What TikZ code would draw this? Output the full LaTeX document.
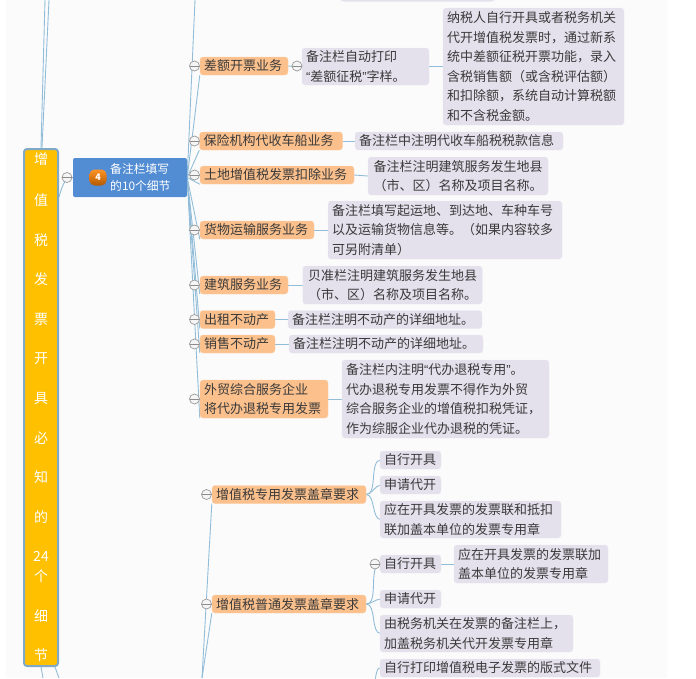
\documentclass[tikz,border=0pt]{standalone}
\usepackage{fontspec}
\usetikzlibrary{backgrounds}
\setmainfont{Noto Sans CJK SC}
\newfontfamily\qf{Liberation Sans}
\definecolor{bgc}{HTML}{FBFBFC}
\definecolor{txtc}{HTML}{3A3A3A}
\definecolor{orc}{HTML}{FBC08C}
\definecolor{grc}{HTML}{E4E0EC}
\definecolor{linec}{HTML}{92BDD8}
\definecolor{rootb}{HTML}{7FA9C6}
\definecolor{blc}{HTML}{528CD3}
\definecolor{rootf}{HTML}{FFC000}
\newcommand{\lqm}{{\qf“}}
\newcommand{\rqm}{{\qf”}}
\tikzset{
 basebox/.style={rounded corners=3pt,inner sep=0pt,text=txtc,font=\fontsize{13}{19.5}\selectfont},
 orbox/.style={basebox,fill=orc,draw=orc!70!white,line width=.4pt},
 grbox/.style={basebox,fill=grc,draw=grc!70!white,line width=.4pt},
 lf/.style={align=left,inner xsep=4pt,text width=#1pt-8pt},
 conn/.style={draw=linec,line width=.9pt},
 knob/.style={circle,draw=black!40,fill=white!96!black,line width=.7pt,inner sep=0pt,minimum size=10pt,
   path picture={\draw[black!45,line width=.7pt] (path picture bounding box.west) -- (path picture bounding box.east);}},
}
\begin{document}
\begin{tikzpicture}[x=1pt,y=-1pt]
\useasboundingbox (0,0) rectangle (696,678);
% free ends
\coordinate (t1) at (45,0);
\coordinate (t2) at (49,0);
\coordinate (b1) at (43,678);
\coordinate (b2) at (59,678);
\coordinate (up) at (195,0);
\coordinate (down) at (202,678);
\coordinate (nextc) at (375,678);
\coordinate (rj) at (59,197);
% nodes
\node[draw=rootb,fill=rootf,line width=2pt,rounded corners=3pt,minimum width=34pt,minimum height=517pt,inner sep=0pt,text=white,align=center,font=\fontsize{14}{19.8}\selectfont] (root) at (41,407.5)
 {\raisebox{1pt}{增}\\[19.8pt]值\\[19.8pt]税\\[19.8pt]发\\[19.8pt]票\\[19.8pt]开\\[19.8pt]具\\[19.8pt]必\\[19.8pt]知\\[19.8pt]的\\[19.8pt]24\\个\\[19.8pt]细\\[19.8pt]节};
\node[fill=blc,rounded corners=2pt,minimum width=114pt,minimum height=39pt,inner sep=0pt] (blue) at (130,177.5) {};
\node[rounded corners=5pt,top color=orange!85!white,bottom color=orange!70!black,minimum width=17pt,minimum height=16pt,inner sep=0pt,text=white,font=\fontsize{9}{9}\selectfont\bfseries\itshape] (ic) at (98,177.5) {4};
\node[text=white,align=left,inner sep=0pt,font=\fontsize{11.8}{16.5}\selectfont,anchor=west] (bt) at (110,177.5) {备注栏填写\\的10个细节};

\node[orbox,lf=88,minimum height=18pt] (o1) at (244,66) {差额开票业务};
\node[orbox,lf=143,minimum height=18pt] (o2) at (271,141) {保险机构代收车船业务};
\node[orbox,lf=154,minimum height=18pt] (o3) at (277,175) {土地增值税发票扣除业务};
\node[orbox,lf=114,minimum height=18pt] (o4) at (257,230) {货物运输服务业务};
\node[orbox,lf=88,minimum height=18pt] (o5) at (244,285) {建筑服务业务};
\node[orbox,lf=75,minimum height=18pt] (o6) at (237.5,319.5) {出租不动产};
\node[orbox,lf=75,minimum height=18pt] (o7) at (237.5,344) {销售不动产};
\node[orbox,lf=128,minimum height=38pt] (o8) at (264,399) {外贸综合服务企业\\将代办退税专用发票};
\node[orbox,lf=154,minimum height=18pt] (o9) at (289,494.5) {增值税专用发票盖章要求};
\node[orbox,lf=154,minimum height=18pt] (o10) at (289,604) {增值税普通发票盖章要求};

\node[grbox,minimum width=153pt,minimum height=3pt] (g0) at (417.5,0) {};
\node[grbox,lf=127,minimum height=37pt] (g1) at (365.5,66.5) {备注栏自动打印\\\lqm 差额征税\rqm 字样。};
\node[grbox,lf=181,minimum height=117pt] (g1b) at (533.5,66.5) {纳税人自行开具或者税务机关\\代开增值税发票时，通过新系\\统中差额征税开票功能，录入\\含税销售额（或含税评估额）\\和扣除额，系统自动计算税额\\和不含税金额。};
\node[grbox,lf=208,minimum height=18pt] (g2) at (459,141) {备注栏中注明代收车船税税款信息};
\node[grbox,minimum width=180pt,minimum height=38pt,align=center] (g3) at (458,176) {备注栏注明建筑服务发生地县\\（市、区）名称及项目名称。};
\node[grbox,lf=234,minimum height=58pt] (g4) at (445,230) {备注栏填写起运地、到达地、车种车号\\以及运输货物信息等。（如果内容较多\\可另附清单）};
\node[grbox,minimum width=179.5pt,minimum height=38pt,align=center] (g5) at (392.5,285) {贝准栏注明建筑服务发生地县\\（市、区）名称及项目名称。};
\node[grbox,lf=194,minimum height=18pt] (g6) at (385,319.5) {备注栏注明不动产的详细地址。};
\node[grbox,lf=194,minimum height=18pt] (g7) at (386,344) {备注栏注明不动产的详细地址。};
\node[grbox,lf=207,minimum height=78pt] (g8) at (445.5,399) {备注栏内注明\lqm 代办退税专用\rqm 。\\代办退税专用发票不得作为外贸\\综合服务企业的增值税扣税凭证，\\作为综服企业代办退税的凭证。};
\node[grbox,lf=61,minimum height=18pt] (h1) at (410.5,460) {自行开具};
\node[grbox,lf=61,minimum height=18pt] (h2) at (410.5,485) {申请代开};
\node[grbox,lf=181,minimum height=37pt] (h3) at (470.5,519.5) {应在开具发票的发票联和抵扣\\联加盖本单位的发票专用章};
\node[grbox,lf=61,minimum height=18pt] (k1) at (410.5,564) {自行开具};
\node[grbox,lf=154,minimum height=38pt] (k1b) at (531,564) {应在开具发票的发票联加\\盖本单位的发票专用章};
\node[grbox,lf=61,minimum height=18pt] (k2) at (410.5,599) {申请代开};
\node[grbox,lf=193,minimum height=37pt] (k3) at (476.5,633.5) {由税务机关在发票的备注栏上，\\加盖税务机关代开发票专用章};
\node[grbox,lf=220,minimum height=18pt] (k4) at (490,668) {自行打印增值税电子发票的版式文件};

% knobs
\node[knob] (n0) at (67,177.5) {};
\node[knob] (n1) at (194.5,66) {};
\node[knob] (n2) at (194.5,141) {};
\node[knob] (n3) at (194.5,175) {};
\node[knob] (n4) at (194.5,230) {};
\node[knob] (n5) at (194.5,285) {};
\node[knob] (n6) at (194.5,319.5) {};
\node[knob] (n7) at (194.5,344) {};
\node[knob] (n8) at (194.5,399) {};
\node[knob] (n9) at (206.5,494.5) {};
\node[knob] (n10) at (206.5,604) {};
\node[knob] (n11) at (297,66) {};
\node[knob] (n12) at (375,564) {};

\begin{pgfonlayer}{background}
\fill[white] (0,0) rectangle (696,678);
\fill[bgc] (6,0) rectangle (667,678);
\draw[conn] (root.north) -- (t1);
\draw[conn] ([xshift=1pt]root.north) -- (t2);
\draw[conn] (root.south) -- (b1);
\draw[conn] ([xshift=14pt]root.south) -- (b2);
\draw[conn] (rj) .. controls (62,187) and (64,178) .. (blue.west);
\draw[conn] (blue.east) -- (up);
\foreach \n in {o1,o2,o3,o4,o5,o6,o7,o8} \draw[conn] (blue.east) -- (\n.south west);
\draw[conn] (down) -- (o9.south west);
\draw[conn] (down) -- (o10.south west);
\foreach \a/\b in {o1/g1,g1/g1b,o2/g2,o3/g3,o4/g4,o5/g5,o6/g6,o7/g7,o8/g8,k1/k1b}
  \draw[conn] (\a.east) -- (\b.west);
\foreach \n in {h1,h2,h3} \draw[conn] (o9.east) to[out=0,in=180,looseness=.8] ([xshift=1pt]\n.west);
\foreach \n in {k1,k2,k3} \draw[conn] (o10.east) to[out=0,in=180,looseness=.8] ([xshift=1pt]\n.west);
\draw[conn] (nextc) to[out=-80,in=180] (k4.west);
\end{pgfonlayer}
\end{tikzpicture}
\end{document}
